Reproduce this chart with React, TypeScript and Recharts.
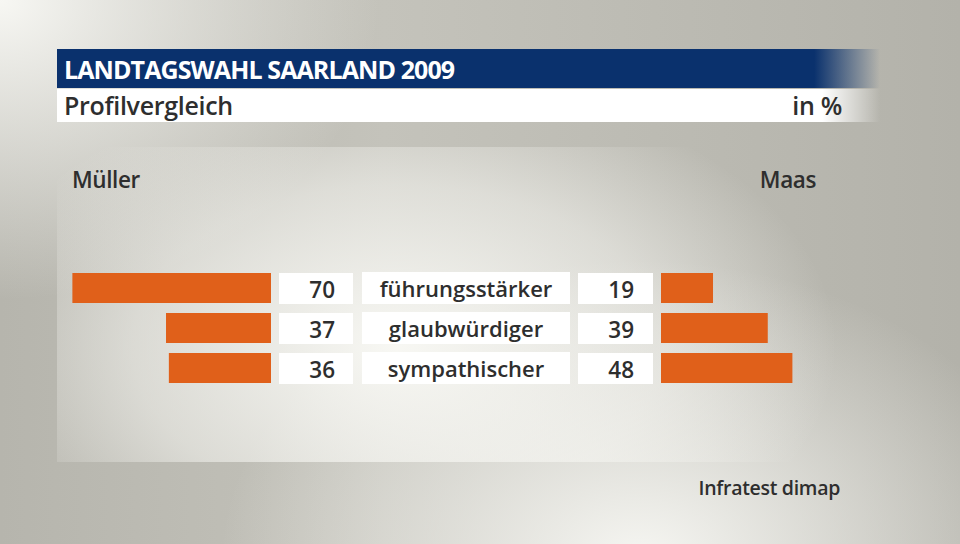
import { Bar, BarChart, XAxis, YAxis, LabelList } from "recharts";

const categories = ["führungsstärker", "glaubwürdiger", "sympathischer"];
const muellerValues = [70, 37, 36];
const maasValues = [19, 39, 48];

const leftData = categories.map((cat, i) => ({ cat, value: muellerValues[i] }));
const rightData = categories.map((cat, i) => ({ cat, value: maasValues[i] }));

const FONT = "'Open Sans', sans-serif";
const ORANGE = "#e0601a";
const TEXT = "#2e2e2e";

function LeftValueBox(props: any) {
  const { x, y, width, height, value } = props;
  const edge = Math.max(x, x + width);
  return (
    <g>
      <rect x={edge + 8} y={y} width={74} height={height + 1} fill="#fff" />
      <text x={edge + 64} y={y + height / 2 + 10} textAnchor="end" fontFamily={FONT} fontWeight={600} fontSize={22.5} fill={TEXT}>
        {value}
      </text>
    </g>
  );
}

function RightValueBox(props: any) {
  const { x, y, width, height, value } = props;
  const edge = Math.min(x, x + width);
  return (
    <g>
      <rect x={edge - 83} y={y} width={75} height={height + 1} fill="#fff" />
      <text x={edge - 27} y={y + height / 2 + 10} textAnchor="end" fontFamily={FONT} fontWeight={600} fontSize={22.5} fill={TEXT}>
        {value}
      </text>
    </g>
  );
}

function CategoryTick(props: any) {
  const { y, payload } = props;
  return (
    <g>
      <rect x={0} y={y - 16} width={208} height={32} fill="#fff" />
      <text x={104} y={y + 9} textAnchor="middle" fontFamily={FONT} fontWeight={600} fontSize={22} fill={TEXT}>
        {payload.value}
      </text>
    </g>
  );
}

export default function App() {
  return (
    <div
      style={{
        position: "absolute",
        left: 0,
        top: 0,
        width: 960,
        height: 544,
        overflow: "hidden",
        fontFamily: FONT,
        background:
          "radial-gradient(ellipse 420px 300px at 640px 560px, #f6f6f2 0%, rgba(246,246,242,0) 100%), radial-gradient(ellipse 380px 300px at 0px 0px, #f7f7f3 0%, rgba(247,247,243,0) 100%), linear-gradient(90deg, #b6b5ad 0%, #c4c3bb 40%, #b3b2aa 100%)",
      }}
    >
      {/* panel */}
      <div
        style={{
          position: "absolute",
          left: 57,
          top: 147,
          width: 823,
          height: 315,
          background:
            "radial-gradient(ellipse 440px 270px at 340px 200px, rgba(250,250,246,0.95) 0%, rgba(250,250,246,0.5) 60%, rgba(250,250,246,0) 100%)",
        }}
      />
      {/* title bar */}
      <div
        style={{
          position: "absolute",
          left: 57,
          top: 49,
          width: 823,
          height: 39,
          background: "linear-gradient(90deg, #0a316d 0%, #0a316d 92%, rgba(10,49,109,0) 100%)",
        }}
      />
      <div
        style={{
          position: "absolute",
          left: 64,
          top: 52,
          color: "#fff",
          fontSize: 25,
          fontWeight: 700,
          letterSpacing: -0.9,
          lineHeight: "34px",
        }}
      >
        LANDTAGSWAHL SAARLAND 2009
      </div>
      <div
        style={{
          position: "absolute",
          left: 57,
          top: 89,
          width: 823,
          height: 33,
          background: "linear-gradient(90deg, #fff 0%, #fff 93%, rgba(255,255,255,0) 100%)",
        }}
      />
      <div style={{ position: "absolute", left: 64, top: 88, color: TEXT, fontSize: 25, fontWeight: 600, letterSpacing: -0.3, lineHeight: "34px" }}>
        Profilvergleich
      </div>
      <div style={{ position: "absolute", right: 960 - 842, top: 88, color: TEXT, fontSize: 25, fontWeight: 600, letterSpacing: -0.3, lineHeight: "34px" }}>
        in %
      </div>
      <div style={{ position: "absolute", left: 72, top: 164, color: TEXT, fontSize: 22.5, fontWeight: 600, letterSpacing: -0.4, lineHeight: "32px" }}>
        Müller
      </div>
      <div style={{ position: "absolute", right: 960 - 816, top: 164, color: TEXT, fontSize: 22.5, fontWeight: 600, letterSpacing: -0.4, lineHeight: "32px" }}>
        Maas
      </div>

      {/* left (Müller) bars */}
      <div style={{ position: "absolute", left: 0, top: 248 }}>
        <BarChart width={360} height={160} data={leftData} layout="vertical" margin={{ top: 20, right: 89, bottom: 20, left: 44 }} barSize={30}>
          <XAxis type="number" domain={[0, 80]} reversed hide />
          <YAxis type="category" dataKey="cat" hide />
          <Bar dataKey="value" fill={ORANGE} isAnimationActive={false}>
            <LabelList dataKey="value" content={<LeftValueBox />} />
          </Bar>
        </BarChart>
      </div>

      {/* right (Maas) bars with category labels */}
      <div style={{ position: "absolute", left: 362, top: 248 }}>
        <BarChart width={540} height={160} data={rightData} layout="vertical" margin={{ top: 20, right: 22, bottom: 20, left: 0 }} barSize={30}>
          <XAxis type="number" domain={[0, 80]} hide />
          <YAxis
            type="category"
            dataKey="cat"
            width={299}
            axisLine={false}
            tickLine={false}
            tickSize={0}
            tick={<CategoryTick />}
          />
          <Bar dataKey="value" fill={ORANGE} isAnimationActive={false}>
            <LabelList dataKey="value" content={<RightValueBox />} />
          </Bar>
        </BarChart>
      </div>

      <div style={{ position: "absolute", right: 960 - 840, top: 474, color: TEXT, fontSize: 19.5, fontWeight: 600, letterSpacing: -0.3, lineHeight: "28px" }}>
        Infratest dimap
      </div>
    </div>
  );
}
